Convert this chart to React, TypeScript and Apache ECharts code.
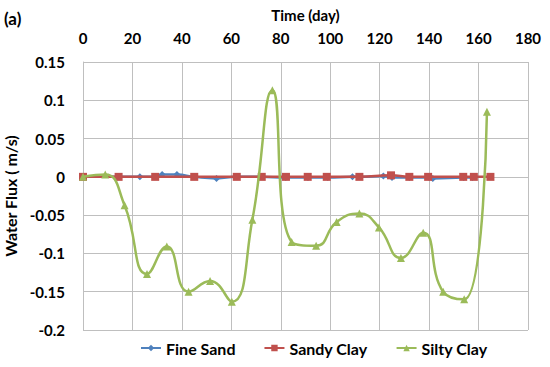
import React, { useEffect, useRef } from "react";
import * as echarts from "echarts";

const fineSandDays = [0, 14, 23, 29, 32, 38, 45, 54, 62, 72, 82, 91, 99, 109, 112, 121.5, 125, 132, 140, 141.5, 154, 157.5];
const fineSandFlux = [0, 0, 0, 0, 0.003, 0.003, 0, -0.002, 0, 0, -0.001, -0.001, -0.001, 0, 0, 0.001, -0.001, -0.001, -0.001, -0.002, -0.001, -0.001];

const sandyClayDays = [0, 14.4, 29.2, 45, 62.2, 72.3, 82.1, 90.9, 98.6, 111.8, 124.6, 132, 139.6, 153.8, 158.1, 164.8];
const sandyClayFlux = [0, 0, 0, 0, 0, 0, 0, 0, 0, 0, 0.002, 0, 0, 0, 0, 0];

const siltyClayDays = [0, 9, 16.8, 25.9, 33.9, 42.7, 51.4, 60.2, 68.5, 76.6, 84.4, 94.3, 102.6, 111.8, 119.7, 128.6, 137.6, 145.7, 154.2, 163.4];
const siltyClayFlux = [0, 0.003, -0.037, -0.127, -0.091, -0.15, -0.136, -0.163, -0.056, 0.113, -0.085, -0.09, -0.059, -0.048, -0.066, -0.106, -0.073, -0.15, -0.16, 0.085];

const seriesNames = ["Fine Sand", "Sandy Clay", "Silty Clay"];
const xTicks = { min: 0, max: 180, interval: 20 };
const yTicks = { min: -0.2, max: 0.15, interval: 0.05 };

const FONT = "Lato";

function pairs(xs: number[], ys: number[]) {
  return xs.map((x, i) => [x, ys[i]]);
}

export default function App() {
  const ref = useRef<HTMLDivElement>(null);
  useEffect(() => {
    if (!ref.current) return;
    const chart = echarts.init(ref.current, null, { renderer: "svg" });
    const lbl = { fontFamily: FONT, fontWeight: "bold" as const, fontSize: 15, color: "#000" };
    chart.setOption({
      animation: false,
      backgroundColor: "#fff",
      grid: { left: 83, right: 22, top: 62, bottom: 37, containLabel: false, outerBoundsMode: "none" },
      graphic: [
        { type: "text", left: 4, top: 10, style: { text: "(a)", fontFamily: FONT, fontWeight: "bold", fontSize: 17, fill: "#000" } },
      ],
      legend: {
        bottom: 6,
        left: 135,
        itemGap: 28,
        itemWidth: 20,
        itemHeight: 8,
        textStyle: { ...lbl, fontSize: 16 },
        data: seriesNames,
      },
      xAxis: {
        type: "value",
        position: "top",
        min: xTicks.min,
        max: xTicks.max,
        interval: xTicks.interval,
        name: "Time (day)",
        nameLocation: "middle",
        nameGap: 40,
        nameTextStyle: { ...lbl, fontSize: 15 },
        axisLine: { show: true, lineStyle: { color: "#bfbfbf" } },
        axisTick: { show: false },
        axisLabel: { ...lbl, margin: 17 },
        splitLine: { show: true, lineStyle: { color: "#bfbfbf", width: 1 } },
      },
      yAxis: {
        type: "value",
        min: yTicks.min,
        max: yTicks.max,
        interval: yTicks.interval,
        name: "Water Flux ( m/s)",
        nameLocation: "middle",
        nameGap: 55,
        nameTextStyle: { ...lbl, fontSize: 16 },
        axisLine: { show: true, lineStyle: { color: "#bfbfbf" } },
        axisTick: { show: false },
        axisLabel: {
          ...lbl,
          margin: 18,
          formatter: (v: number) => String(parseFloat(v.toFixed(2))),
        },
        splitLine: { show: true, lineStyle: { color: "#bfbfbf", width: 1 } },
      },
      series: [
        {
          name: seriesNames[0],
          type: "line",
          smooth: 0.5,
          data: pairs(fineSandDays, fineSandFlux),
          symbol: "diamond",
          symbolSize: 7,
          itemStyle: { color: "#4F81BD" },
          lineStyle: { color: "#4F81BD", width: 2.5 },
          z: 2,
        },
        {
          name: seriesNames[1],
          type: "line",
          smooth: 0.5,
          data: pairs(sandyClayDays, sandyClayFlux),
          symbol: "rect",
          symbolSize: 8,
          itemStyle: { color: "#C0504D" },
          lineStyle: { color: "#C0504D", width: 2.5 },
          z: 3,
        },
        {
          name: seriesNames[2],
          type: "line",
          smooth: 0.5,
          data: pairs(siltyClayDays, siltyClayFlux),
          symbol: "triangle",
          symbolSize: 8,
          itemStyle: { color: "#9BBB59" },
          lineStyle: { color: "#9BBB59", width: 2.5 },
          z: 4,
        },
      ],
    });
    return () => chart.dispose();
  }, []);
  return <div ref={ref} style={{ width: 550, height: 367, position: "absolute", left: 0, top: 0 }} />;
}
